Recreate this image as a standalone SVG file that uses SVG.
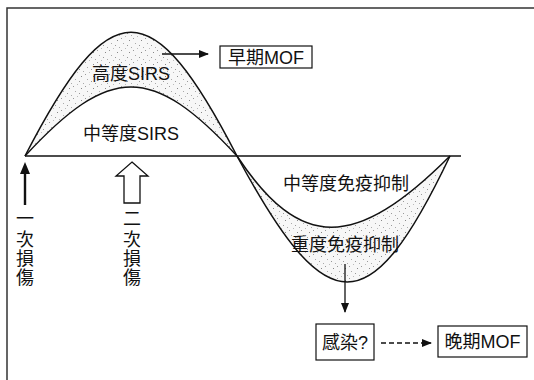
<svg xmlns="http://www.w3.org/2000/svg" width="534" height="380" viewBox="0 0 534 380">
<style>
.ln{fill:none;stroke:#111;stroke-width:1.5}
.t{font-family:"Liberation Sans","Noto Sans CJK TC",sans-serif;font-size:18px;fill:#111}
.box{fill:#fff;stroke:#111;stroke-width:1.2}
.conn{fill:none;stroke:#111;stroke-width:1.3}
</style>
<defs>
<pattern id="stip" width="12" height="12" patternUnits="userSpaceOnUse">
<rect width="12" height="12" fill="#f7f7f7"/>
<rect x="1" y="2" width="1" height="1" fill="#999"/>
<rect x="9" y="4" width="1" height="1" fill="#888"/>
<rect x="3" y="7" width="1" height="1" fill="#aaa"/>
<rect x="7" y="9" width="1" height="1" fill="#999"/>
<rect x="11" y="11" width="1" height="1" fill="#aaa"/>
<rect x="5" y="0" width="1" height="1" fill="#bbb"/>
</pattern>
<marker id="ah" markerWidth="10" markerHeight="8" refX="9" refY="4" orient="auto" markerUnits="userSpaceOnUse">
<path d="M0,0 L10,4 L0,8 Z" fill="#111"/>
</marker>
</defs>
<g id="frame">
<path d="M7,380 V8 H534" fill="none" stroke="#333" stroke-width="1.5"/>
</g>
<g id="waves">
<path d="M25,156 C110,-9 152,-9 237,156 C152,64 110,64 25,156 Z" fill="url(#stip)"/>
<path d="M237,156 C327,324 370,324 450,156 C355,251 300,251 237,156 Z" fill="url(#stip)"/>
<line x1="25" y1="156" x2="461" y2="156" class="ln"/>
<path d="M25,156 C110,-9 152,-9 237,156" class="ln"/>
<path d="M25,156 C110,64 152,64 237,156" class="ln"/>
<path d="M237,156 C327,324 370,324 450,156" class="ln"/>
<path d="M237,156 C300,251 355,251 450,156" class="ln"/>
<text class="t" x="131" y="80" text-anchor="middle">高度SIRS</text>
<text class="t" x="131" y="140" text-anchor="middle">中等度SIRS</text>
<text class="t" x="346" y="190" text-anchor="middle">中等度免疫抑制</text>
<text class="t" x="345" y="251" text-anchor="middle" font-size="16">重度免疫抑制</text>
</g>
<g id="injury1">
<path d="M25,162 L30,174 L26.2,174 L26.2,205 L23.8,205 L23.8,174 L20,174 Z" fill="#111"/>
<text class="t" text-anchor="middle"><tspan x="25" y="225">一</tspan><tspan x="25" y="246">次</tspan><tspan x="25" y="265">損</tspan><tspan x="25" y="284">傷</tspan></text>
</g>
<g id="injury2">
<path d="M132,162 L148,176 L140,176 L140,203 L124,203 L124,176 L116,176 Z" fill="#fff" stroke="#111" stroke-width="1.3"/>
<text class="t" text-anchor="middle"><tspan x="132" y="225">二</tspan><tspan x="132" y="246">次</tspan><tspan x="132" y="265">損</tspan><tspan x="132" y="284">傷</tspan></text>
</g>
<g id="earlyMOF">
<rect class="box" x="220" y="46" width="92" height="22"/>
<text class="t" x="266" y="64" text-anchor="middle">早期MOF</text>
</g>
<g id="infection">
<rect class="box" x="316" y="324" width="58" height="36"/>
<text class="t" x="345" y="349" text-anchor="middle">感染?</text>
</g>
<g id="lateMOF">
<rect class="box" x="438" y="326" width="89" height="31"/>
<text class="t" x="482.5" y="348" text-anchor="middle">晚期MOF</text>
</g>
<g id="connectors">
<line class="conn" x1="162" y1="54" x2="208" y2="54" marker-end="url(#ah)"/>
<line class="conn" x1="345" y1="264" x2="345" y2="312" marker-end="url(#ah)"/>
<line class="conn" x1="381" y1="343" x2="431" y2="343" stroke-dasharray="5,3" marker-end="url(#ah)"/>
</g>
</svg>
